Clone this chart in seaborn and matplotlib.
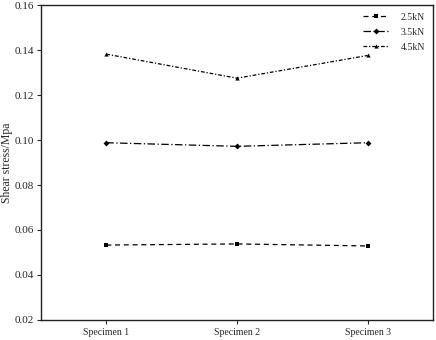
import matplotlib
matplotlib.use('Agg')
import matplotlib.pyplot as plt
import seaborn as sns
import pandas as pd

specimens = ['Specimen 1', 'Specimen 2', 'Specimen 3']
loads = ['2.5kN', '3.5kN', '4.5kN']
stress_25 = [0.0533, 0.0538, 0.0529]
stress_35 = [0.0988, 0.0972, 0.0988]
stress_45 = [0.1382, 0.1275, 0.1376]

rows = []
for load, vals in zip(loads, [stress_25, stress_35, stress_45]):
    for i, v in enumerate(vals):
        rows.append({'x': i, 'stress': v, 'load': load})
df = pd.DataFrame(rows)

sns.set_style('ticks')
plt.rcParams['font.family'] = ['Liberation Serif', 'DejaVu Serif']

fig = plt.figure(figsize=(4.36, 3.40), dpi=100)
ax = fig.add_axes([0.094, 0.059, 0.899, 0.926])

sns.lineplot(data=df, x='x', y='stress', style='load', hue='load',
             palette=['black'] * 3,
             markers={'2.5kN': 's', '3.5kN': 'D', '4.5kN': '^'},
             dashes={'2.5kN': (4, 3), '3.5kN': (6, 2, 1, 2), '4.5kN': (3, 1.5, 1, 1.5)},
             linewidth=0.9, markersize=3, markeredgewidth=0, ax=ax)

ax.set_xlim(-0.5, 2.5)
ax.set_ylim(0.02, 0.16)
ax.set_xticks(range(3))
ax.set_xticklabels(specimens)
ax.set_yticks([0.02, 0.04, 0.06, 0.08, 0.10, 0.12, 0.14, 0.16])
ax.set_yticklabels(['%.2f' % t for t in ax.get_yticks()])
ax.set_xlabel('')
ax.set_ylabel('Shear stress/Mpa', fontsize=8.5, labelpad=1)
ax.tick_params(length=3, width=0.8, direction='out', pad=2)
ax.tick_params(axis='x', labelsize=7, pad=3)
ax.tick_params(axis='y', labelsize=8)
for s in ax.spines.values():
    s.set_linewidth(1.0)
    s.set_color('#222222')

leg = ax.legend(loc='upper right', frameon=False, fontsize=7,
                handlelength=2.7, handletextpad=1.2, borderaxespad=0.4,
                labelspacing=0.6)

fig.savefig('out.png', dpi=100)
